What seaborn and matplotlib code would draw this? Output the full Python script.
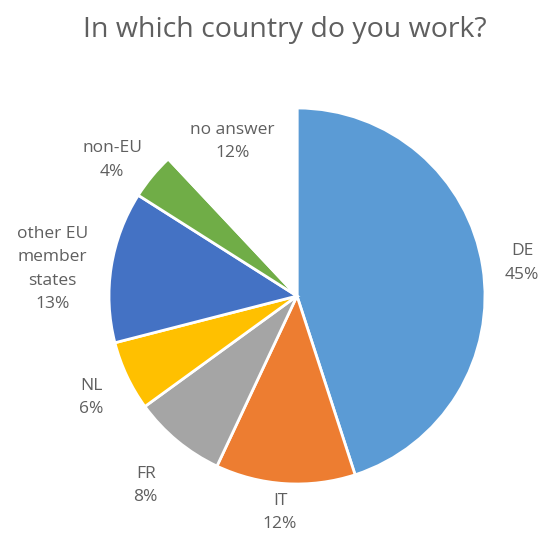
import numpy as np
import matplotlib
matplotlib.use("Agg")
import matplotlib.pyplot as plt
import seaborn as sns

# Survey answers: country of work (share of respondents, %)
categories = ["DE", "IT", "FR", "NL", "other EU\nmember\nstates", "non-EU", "no answer"]
shares = [45, 12, 8, 6, 13, 4, 12]
slice_colors = ["#5B9BD5", "#ED7D31", "#A5A5A5", "#FFC000", "#4472C4", "#70AD47", "none"]

# Radial offset of each label, as a multiple of the pie radius, and a small angular nudge (deg)
label_radius = [1.21, 1.155, 1.29, 1.22, 1.31, 1.22, 0.89]
label_angle_shift = [-0.7, -0.9, 1.0, 1.0, 2.7, 3.3, 1.1]

sns.set_theme(style="white")
plt.rcParams["font.family"] = ["Open Sans", "DejaVu Sans"]

fig = plt.figure(figsize=(5.43, 5.41), dpi=100)
ax = fig.add_axes([0.0, 0.0, 1.0, 1.0])

R = 1.0
wedges, _ = ax.pie(
    shares,
    colors=slice_colors,
    startangle=90,
    counterclock=False,
    radius=R,
    center=(0, 0),
    wedgeprops=dict(edgecolor="white", linewidth=2),
)

text_color = "#5f5f5f"
for w, name, pct, rf, shift in zip(wedges, categories, shares, label_radius, label_angle_shift):
    mid = np.deg2rad((w.theta1 + w.theta2) / 2 + shift)
    x, y = rf * R * np.cos(mid), rf * R * np.sin(mid)
    ax.text(x, y, f"{name}\n{pct}%", ha="center", va="center",
            fontsize=12.5, color=text_color, linespacing=1.62)

# Axis limits so the pie sits at the same spot of the canvas
px_per_unit = 188.0
cx, cy = 297.0, 296.0
W, H = 543.0, 541.0
ax.set_xlim(-cx / px_per_unit, (W - cx) / px_per_unit)
ax.set_ylim(-(H - cy) / px_per_unit, cy / px_per_unit)
ax.set_aspect("equal")
ax.axis("off")

fig.text(285 / W, 1 - 30 / H, "In which country do you work?", ha="center", va="center",
         fontsize=20.5, color=text_color)

fig.savefig("out.png", dpi=100, facecolor="white")
